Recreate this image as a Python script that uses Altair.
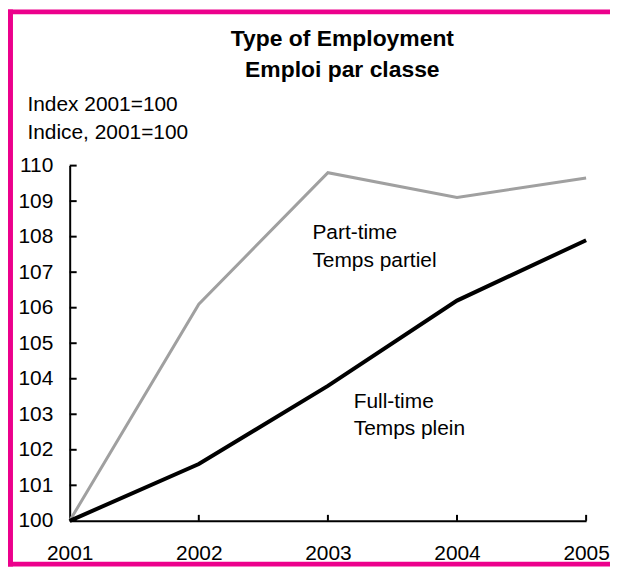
import altair as alt
import pandas as pd

years = [2001, 2002, 2003, 2004, 2005]
part_time = [100.0, 106.1, 109.8, 109.1, 109.65]
full_time = [100.0, 101.6, 103.8, 106.2, 107.9]
y_ticks = [100, 101, 102, 103, 104, 105, 106, 107, 108, 109, 110]
x_ticks = [2002, 2003, 2004, 2005]

title_lines = ["Type of Employment", "Emploi par classe"]
y_title = ["Index 2001=100", "Indice, 2001=100"]

lbl_text = ["Part-time", "Temps partiel", "Full-time", "Temps plein"]
lbl_x = [2002.88, 2002.88, 2003.2, 2003.2]
lbl_y = [107.93, 107.15, 103.18, 102.41]

FONT = "Liberation Sans"
PINK = "#EC008C"

df = pd.DataFrame({
    "year": years * 2,
    "value": part_time + full_time,
    "series": ["Part-time"] * 5 + ["Full-time"] * 5,
})
lbl_df = pd.DataFrame({"x": lbl_x, "y": lbl_y, "t": lbl_text})
yt_df = pd.DataFrame({"v": y_ticks})
xt_df = pd.DataFrame({"v": x_ticks})
one = pd.DataFrame({"a": [0]})

xs = alt.Scale(domain=[2001, 2005], nice=False, zero=False)
ys = alt.Scale(domain=[100, 110], nice=False, zero=False)

x_axis = alt.Axis(values=years, format="d", ticks=False, tickSize=0, grid=False,
                  domainColor="black", domainWidth=2, labelFont=FONT, labelFontSize=21,
                  labelColor="black", labelBaseline="alphabetic", labelPadding=39,
                  labelFlush=False, labelOverlap=False, title=None)
y_axis = alt.Axis(values=y_ticks, ticks=False, tickSize=0, grid=False,
                  domainColor="black", domainWidth=2, labelFont=FONT, labelFontSize=21,
                  labelColor="black", labelPadding=17, labelOverlap=False,
                  title=y_title, titleAngle=0, titleAlign="left", titleBaseline="alphabetic",
                  titleX=-43, titleY=-55, titleLineHeight=28, titleFont=FONT,
                  titleFontSize=21, titleFontWeight="normal", titleColor="black")


def X(f):
    return alt.X(f, scale=xs, axis=x_axis)


def Y(f):
    return alt.Y(f, scale=ys, axis=y_axis)


base = alt.Chart(df)

part = base.transform_filter(alt.datum.series == "Part-time").mark_line(
    color="#A0A0A0", strokeWidth=3).encode(x=X("year:Q"), y=Y("value:Q"))
full = base.transform_filter(alt.datum.series == "Full-time").mark_line(
    color="black", strokeWidth=4).encode(x=X("year:Q"), y=Y("value:Q"))

ytick = alt.Chart(yt_df).mark_rule(color="black", strokeWidth=2).encode(
    y=Y("v:Q"), x=alt.value(0), x2=alt.value(7))
xtick = alt.Chart(xt_df).mark_rule(color="black", strokeWidth=2).encode(
    x=X("v:Q"), y=alt.value(357), y2=alt.value(351))

labels = alt.Chart(lbl_df).mark_text(
    font=FONT, fontSize=21, align="left", baseline="alphabetic", color="black").encode(
    x=X("x:Q"), y=Y("y:Q"), text="t:N")

title_style = dict(font=FONT, fontSize=23, fontWeight="bold", align="center",
                   baseline="alphabetic", color="black")
title1 = alt.Chart(one).mark_text(**title_style).encode(
    x=alt.value(274), y=alt.value(-120), text=alt.value(title_lines[0]))
title2 = alt.Chart(one).mark_text(**title_style).encode(
    x=alt.value(274), y=alt.value(-89), text=alt.value(title_lines[1]))

rule_style = dict(color=PINK, strokeWidth=5)
b_top = alt.Chart(one).mark_rule(**rule_style).encode(
    x=alt.value(-62), x2=alt.value(543), y=alt.value(-154.5))
b_left = alt.Chart(one).mark_rule(**rule_style).encode(
    x=alt.value(-59.5), y=alt.value(-157), y2=alt.value(403))
b_bottom = alt.Chart(one).mark_rule(**rule_style).encode(
    x=alt.value(-62), x2=alt.value(543), y=alt.value(400.5))

chart = alt.layer(b_top, b_left, b_bottom, part, full, ytick, xtick, labels,
                  title1, title2).properties(
    width=519, height=357,
    autosize=alt.AutoSizeParams(type="none"),
    padding={"left": 62, "top": 157, "right": 24, "bottom": 46},
).configure_view(stroke=None)

chart.save("out.html", embed_options={"renderer": "svg", "actions": False})
